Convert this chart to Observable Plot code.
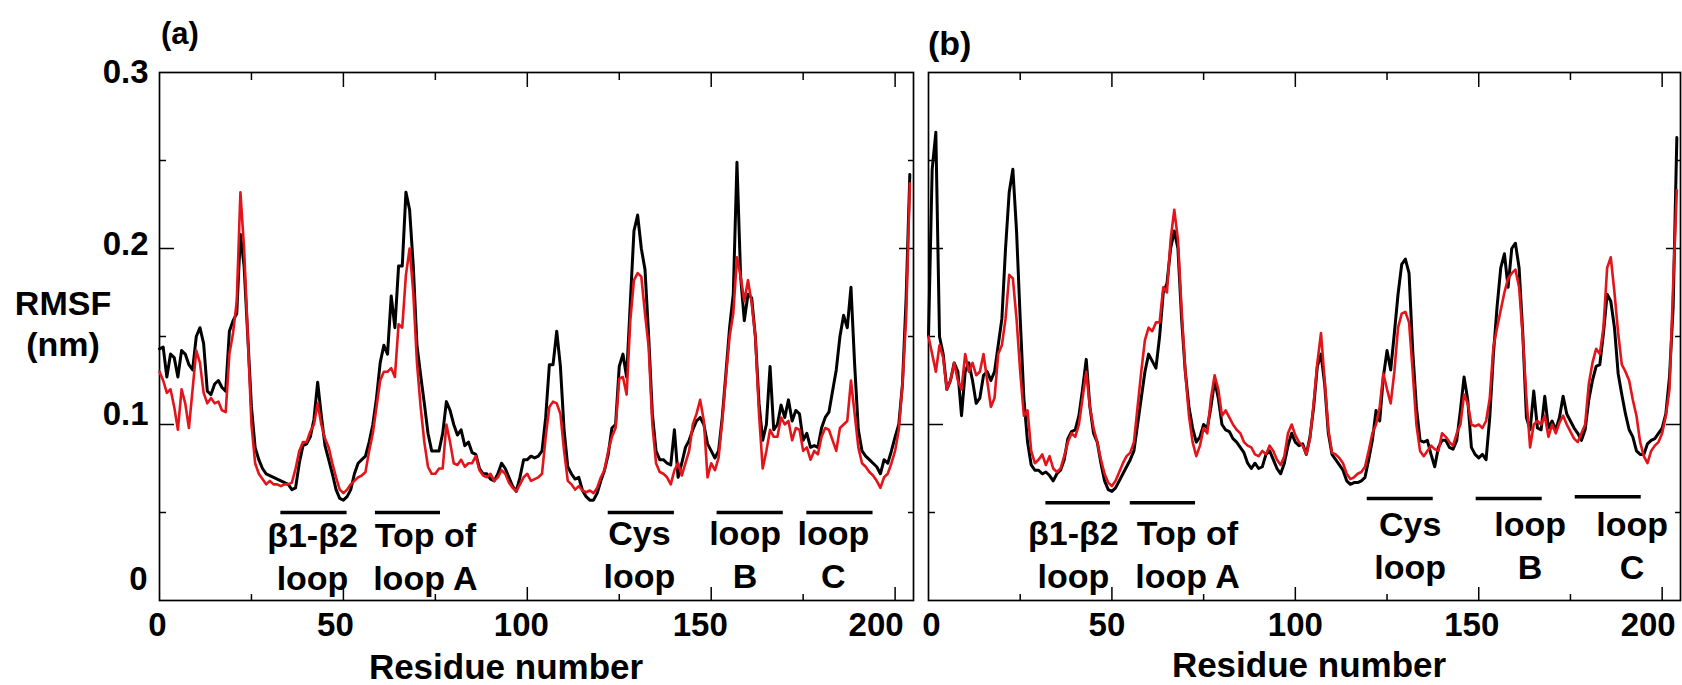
<!DOCTYPE html>
<html><head><meta charset="utf-8">
<script src="https://cdn.jsdelivr.net/npm/d3@7"></script>
<script src="https://cdn.jsdelivr.net/npm/@observablehq/plot@0.6"></script>
<style>
html,body{margin:0;padding:0;background:#fff;}
#chart{position:relative;width:1682px;height:685px;overflow:hidden;background:#fff;}
#chart svg{position:absolute;top:0;}
</style></head><body><div id="chart"></div>
<script>
// ---------- DATA (RMSF in nm, residue index 0..204) ----------
const rmsfA_black = [0.143,0.144,0.127,0.140,0.138,0.127,0.142,0.140,0.134,0.131,0.150,0.155,0.146,0.119,0.117,0.123,0.125,0.121,0.119,0.153,
0.159,0.163,0.208,0.190,0.150,0.110,0.087,0.080,0.075,0.072,0.071,0.070,0.069,0.068,0.067,0.066,0.063,0.064,0.078,0.088,
0.089,0.093,0.103,0.124,0.105,0.088,0.080,0.072,0.063,0.058,0.057,0.059,0.063,0.072,0.078,0.080,0.082,0.090,0.100,0.115,
0.135,0.145,0.140,0.173,0.155,0.190,0.190,0.232,0.222,0.190,0.145,0.128,0.112,0.095,0.085,0.085,0.085,0.095,0.113,0.108,
0.100,0.094,0.097,0.088,0.090,0.084,0.083,0.075,0.072,0.072,0.069,0.068,0.072,0.078,0.075,0.070,0.065,0.062,0.070,0.080,
0.080,0.082,0.081,0.082,0.085,0.104,0.134,0.134,0.153,0.133,0.097,0.076,0.072,0.069,0.070,0.0625,0.059,0.057,0.057,0.061,
0.068,0.074,0.083,0.098,0.100,0.133,0.140,0.127,0.169,0.210,0.219,0.200,0.188,0.150,0.106,0.085,0.080,0.080,0.078,0.077,
0.097,0.070,0.078,0.087,0.091,0.097,0.102,0.104,0.100,0.089,0.085,0.081,0.085,0.104,0.129,0.155,0.174,0.249,0.184,0.159,
0.174,0.172,0.150,0.112,0.091,0.100,0.133,0.097,0.100,0.111,0.104,0.114,0.102,0.108,0.106,0.091,0.095,0.087,0.088,0.087,
0.098,0.104,0.107,0.119,0.131,0.150,0.162,0.155,0.178,0.134,0.097,0.085,0.082,0.080,0.078,0.076,0.072,0.080,0.078,0.085,
0.093,0.100,0.123,0.172,0.242];
const rmsfA_red = [0.130,0.125,0.118,0.120,0.110,0.097,0.120,0.112,0.098,0.120,0.142,0.135,0.118,0.112,0.115,0.112,0.113,0.108,0.107,0.140,
0.152,0.170,0.232,0.200,0.150,0.100,0.078,0.072,0.069,0.066,0.068,0.066,0.066,0.065,0.066,0.066,0.067,0.075,0.085,0.090,
0.090,0.096,0.100,0.112,0.100,0.092,0.087,0.078,0.070,0.063,0.061,0.063,0.066,0.068,0.070,0.071,0.073,0.085,0.095,0.110,
0.125,0.130,0.130,0.132,0.127,0.157,0.155,0.185,0.200,0.175,0.135,0.110,0.090,0.076,0.072,0.072,0.075,0.075,0.100,0.090,
0.078,0.077,0.080,0.076,0.078,0.078,0.082,0.074,0.071,0.070,0.072,0.068,0.070,0.074,0.072,0.067,0.064,0.062,0.066,0.070,
0.072,0.068,0.069,0.070,0.072,0.093,0.110,0.113,0.112,0.106,0.085,0.068,0.066,0.063,0.065,0.0625,0.0615,0.0625,0.061,0.064,
0.070,0.074,0.085,0.093,0.098,0.126,0.127,0.117,0.159,0.182,0.186,0.184,0.163,0.144,0.100,0.078,0.073,0.072,0.070,0.066,
0.074,0.078,0.071,0.078,0.085,0.100,0.106,0.114,0.102,0.070,0.078,0.074,0.081,0.102,0.127,0.150,0.163,0.195,0.184,0.170,
0.182,0.169,0.150,0.106,0.075,0.085,0.097,0.093,0.093,0.104,0.100,0.102,0.091,0.098,0.097,0.085,0.087,0.080,0.085,0.083,
0.093,0.098,0.097,0.091,0.085,0.098,0.100,0.102,0.125,0.106,0.087,0.078,0.076,0.073,0.071,0.068,0.064,0.070,0.072,0.078,
0.085,0.097,0.123,0.161,0.237];
const rmsfB_black = [0.150,0.245,0.266,0.150,0.140,0.120,0.125,0.135,0.130,0.105,0.130,0.135,0.125,0.112,0.115,0.128,0.130,0.125,0.130,0.145,
0.160,0.200,0.232,0.245,0.210,0.160,0.115,0.090,0.077,0.074,0.074,0.072,0.073,0.071,0.068,0.072,0.074,0.080,0.092,0.096,
0.097,0.105,0.120,0.137,0.110,0.095,0.090,0.078,0.068,0.063,0.062,0.064,0.068,0.072,0.076,0.080,0.085,0.100,0.115,0.130,
0.140,0.136,0.132,0.150,0.175,0.180,0.200,0.210,0.200,0.160,0.130,0.110,0.098,0.090,0.093,0.100,0.098,0.110,0.125,0.115,
0.100,0.097,0.096,0.092,0.090,0.087,0.084,0.078,0.075,0.078,0.075,0.076,0.083,0.085,0.080,0.075,0.072,0.078,0.088,0.095,
0.090,0.088,0.089,0.083,0.093,0.110,0.133,0.140,0.123,0.095,0.083,0.080,0.077,0.074,0.068,0.066,0.067,0.067,0.068,0.070,
0.080,0.091,0.108,0.102,0.127,0.142,0.131,0.152,0.174,0.191,0.194,0.186,0.142,0.110,0.091,0.090,0.091,0.083,0.076,0.087,
0.091,0.091,0.087,0.086,0.091,0.108,0.127,0.114,0.087,0.083,0.081,0.083,0.080,0.104,0.140,0.167,0.189,0.197,0.178,0.200,
0.203,0.189,0.152,0.104,0.097,0.119,0.098,0.097,0.116,0.098,0.102,0.097,0.104,0.116,0.106,0.102,0.098,0.095,0.091,0.097,
0.114,0.125,0.133,0.134,0.152,0.174,0.170,0.155,0.129,0.117,0.106,0.097,0.093,0.085,0.083,0.083,0.089,0.091,0.092,0.095,
0.098,0.106,0.127,0.167,0.263];
const rmsfB_red = [0.150,0.140,0.130,0.145,0.138,0.120,0.125,0.135,0.125,0.120,0.140,0.130,0.135,0.128,0.130,0.140,0.125,0.110,0.115,0.140,
0.145,0.160,0.185,0.183,0.160,0.130,0.105,0.108,0.085,0.078,0.080,0.083,0.077,0.082,0.075,0.073,0.075,0.082,0.090,0.095,
0.093,0.100,0.115,0.130,0.110,0.098,0.090,0.080,0.072,0.067,0.065,0.068,0.073,0.078,0.082,0.084,0.090,0.110,0.130,0.148,
0.155,0.153,0.158,0.158,0.178,0.175,0.205,0.222,0.205,0.165,0.130,0.105,0.090,0.082,0.088,0.098,0.095,0.115,0.128,0.120,
0.105,0.108,0.104,0.100,0.097,0.095,0.090,0.088,0.087,0.083,0.082,0.085,0.083,0.088,0.085,0.080,0.077,0.082,0.095,0.100,
0.094,0.090,0.088,0.083,0.092,0.112,0.135,0.152,0.125,0.097,0.084,0.083,0.081,0.078,0.072,0.069,0.070,0.072,0.073,0.076,
0.085,0.095,0.100,0.110,0.129,0.120,0.112,0.130,0.155,0.163,0.164,0.158,0.130,0.100,0.085,0.082,0.085,0.088,0.086,0.085,
0.095,0.093,0.090,0.088,0.095,0.100,0.117,0.112,0.100,0.099,0.100,0.098,0.102,0.115,0.144,0.155,0.165,0.175,0.183,0.186,
0.188,0.178,0.150,0.115,0.087,0.100,0.102,0.100,0.105,0.093,0.100,0.095,0.101,0.105,0.100,0.096,0.092,0.090,0.095,0.100,
0.123,0.135,0.143,0.140,0.155,0.189,0.195,0.175,0.152,0.134,0.130,0.125,0.114,0.105,0.090,0.082,0.078,0.085,0.088,0.090,
0.095,0.105,0.120,0.180,0.233];

// ticks
const xTicks = [0, 50, 100, 150, 200];
const xTickLabels = ["0", "50", "100", "150", "200"];
const xMinorTicks = [25, 75, 125, 175];
const yTicks = [0, 0.1, 0.2, 0.3];
const yTickLabels = ["0", "0.1", "0.2", "0.3"];
const yMinorTicks = [0.05, 0.15, 0.25];

// annotated regions (residue ranges)
const regionNames = ["β1-β2\nloop", "Top of\nloop A", "Cys\nloop", "loop\nB", "loop\nC"];
const regionStartA = [33, 58.7, 122, 151.6, 176];
const regionEndA   = [51, 76.4, 140, 169.6, 194];
const regionStartB = [32, 55, 119.6, 149.3, 176.3];
const regionEndB   = [49.6, 72.8, 137.6, 167.3, 194.3];

// ---------- RENDER ----------
const RED = "#e3151b";
const FONT = "'Liberation Sans', Arial, Helvetica, sans-serif";
const fmtX = d => xTickLabels[xTicks.indexOf(d)];
const fmtY = d => yTickLabels[yTicks.indexOf(d)];

function panel(cfg) {
  const black = cfg.black.map((v, i) => ({residue: i, rmsf: v}));
  const red = cfg.red.map((v, i) => ({residue: i, rmsf: v}));
  const regions = regionNames.map((name, i) => ({
    name, start: cfg.starts[i], end: cfg.ends[i],
    mid: cfg.labelX[i], barY: cfg.barY[i], textY: cfg.textY[i]
  }));
  const marks = [
    Plot.frame({stroke: "black", strokeWidth: 1.7}),
    // inward ticks on all four sides
    Plot.axisX({anchor: "bottom", ticks: xTicks.slice(1), tickSize: -13, fill: "none", label: null, strokeWidth: 1.5}),
    Plot.axisX({anchor: "bottom", ticks: xMinorTicks, tickSize: -6, fill: "none", label: null, strokeWidth: 1.5}),
    Plot.axisX({anchor: "top", ticks: xTicks.slice(1), tickSize: -14, fill: "none", label: null, strokeWidth: 1.5}),
    Plot.axisX({anchor: "top", ticks: xMinorTicks, tickSize: -7, fill: "none", label: null, strokeWidth: 1.5}),
    Plot.axisY({anchor: "left", ticks: [0.1, 0.2], tickSize: -15, fill: "none", label: null, strokeWidth: 1.5}),
    Plot.axisY({anchor: "left", ticks: yMinorTicks, tickSize: -7, fill: "none", label: null, strokeWidth: 1.5}),
    Plot.axisY({anchor: "right", ticks: [0.1, 0.2], tickSize: -15, fill: "none", label: null, strokeWidth: 1.5}),
    Plot.axisY({anchor: "right", ticks: yMinorTicks, tickSize: -6, fill: "none", label: null, strokeWidth: 1.5}),
    // x tick labels
    ...xTicks.map((t, i) => Plot.axisX({anchor: "bottom", ticks: [t], tickSize: 0, tickPadding: 12,
      tickFormat: fmtX, label: null, fontSize: 33, fontWeight: "bold", dx: cfg.xNudge[i]})),
    // series
    Plot.line(black, {x: "residue", y: "rmsf", stroke: "black", strokeWidth: 3.0, strokeLinejoin: "round"}),
    Plot.line(red, {x: "residue", y: "rmsf", stroke: RED, strokeWidth: 2.6, strokeLinejoin: "round"}),
    // region bars and labels
    Plot.ruleY(regions, {x1: "start", x2: "end", y: "barY", stroke: "black", strokeWidth: 3.5}),
    Plot.text(regions, {x: "mid", y: "textY", text: "name", lineAnchor: "bottom", lineHeight: 1.27,
      fontSize: 34, fontWeight: "bold", fill: "black", textAnchor: "middle"})
  ];
  if (cfg.yLabels) {
    marks.push(
      Plot.axisY({anchor: "left", ticks: [0.3], tickSize: 0, tickPadding: 11, tickFormat: fmtY, label: null, fontSize: 33, fontWeight: "bold"}),
      Plot.axisY({anchor: "left", ticks: [0.2], tickSize: 0, tickPadding: 11, tickFormat: fmtY, label: null, fontSize: 33, fontWeight: "bold", dy: -4}),
      Plot.axisY({anchor: "left", ticks: [0.1], tickSize: 0, tickPadding: 11, tickFormat: fmtY, label: null, fontSize: 33, fontWeight: "bold", dy: -10}),
      Plot.axisY({anchor: "left", ticks: [0], tickSize: 0, tickPadding: 12, tickFormat: fmtY, label: null, fontSize: 33, fontWeight: "bold", dy: -21})
    );
  }
  const svg = Plot.plot({
    width: cfg.width, height: 685,
    marginTop: 72, marginBottom: 85, marginLeft: cfg.marginLeft, marginRight: cfg.marginRight,
    x: {domain: [0, 205]},
    y: {domain: [0, 0.3]},
    style: {fontFamily: FONT, fontSize: "33px", fontWeight: "bold", color: "black", background: "white", overflow: "visible"},
    marks
  });
  svg.style.left = cfg.left + "px";
  const s = d3.select(svg);
  for (const t of cfg.texts) {
    s.append("text").attr("x", t.x).attr("y", t.y).attr("text-anchor", t.anchor || "start")
      .attr("font-size", t.size).attr("font-weight", "bold").attr("font-family", FONT)
      .attr("fill", "black").text(t.text);
  }
  document.getElementById("chart").appendChild(svg);
}

panel({
  black: rmsfA_black, red: rmsfA_red,
  starts: regionStartA, ends: regionEndA,
  labelX: [41.6, 72.3, 130.5, 159.2, 183.2],
  barY: [0.05, 0.05, 0.05, 0.05, 0.05],
  textY: [0.006, 0.006, 0.007, 0.007, 0.007],
  xNudge: [-2, -8, -6, -11, -19],
  yLabels: true,
  left: 0, width: 920, marginLeft: 159, marginRight: 7,
  texts: [
    {text: "(a)", x: 161, y: 44, size: 31},
    {text: "RMSF", x: 63, y: 315, size: 34, anchor: "middle"},
    {text: "(nm)", x: 63, y: 356, size: 34, anchor: "middle"},
    {text: "Residue number", x: 506, y: 679, size: 35, anchor: "middle"}
  ]
});
panel({
  black: rmsfB_black, red: rmsfB_red,
  starts: regionStartB, ends: regionEndB,
  labelX: [39.5, 70.6, 131.3, 164, 191.8],
  barY: [0.0555, 0.0555, 0.058, 0.058, 0.059],
  textY: [0.0072, 0.0072, 0.012, 0.012, 0.012],
  xNudge: [3, -5, 0, -7, -14],
  yLabels: false,
  left: 920, width: 762, marginLeft: 8, marginRight: 2,
  texts: [
    {text: "(b)", x: 8, y: 55, size: 34},
    {text: "Residue number", x: 389, y: 677, size: 35, anchor: "middle"}
  ]
});
</script></body></html>
